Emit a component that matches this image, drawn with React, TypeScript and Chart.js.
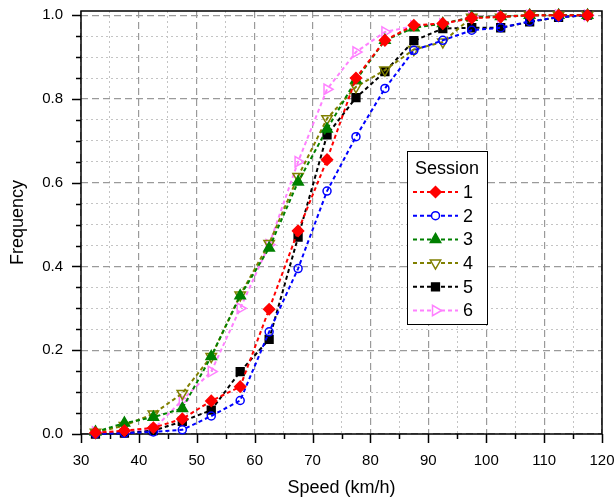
import React, { useEffect, useRef } from 'react';
import { Chart, registerables } from 'chart.js';
import { drawPoint } from 'chart.js/helpers';

Chart.register(...registerables);

// ---- data ----
const speeds = [32.5, 37.5, 42.5, 47.5, 52.5, 57.5, 62.5, 67.5, 72.5, 77.5, 82.5, 87.5, 92.5, 97.5, 102.5, 107.5, 112.5, 117.5];
const session1 = [0.003, 0.008, 0.015, 0.036, 0.079, 0.113, 0.298, 0.485, 0.655, 0.85, 0.94, 0.976, 0.98, 0.993, 0.996, 1.0, 1.0, 1.0];
const session2 = [0.0, 0.002, 0.005, 0.01, 0.043, 0.08, 0.244, 0.395, 0.58, 0.71, 0.825, 0.916, 0.94, 0.964, 0.97, 0.985, 0.995, 1.0];
const session3 = [0.005, 0.026, 0.04, 0.061, 0.185, 0.33, 0.444, 0.602, 0.728, 0.845, 0.94, 0.97, 0.98, 0.995, 0.997, 1.0, 1.0, 1.0];
const session4 = [0.004, 0.02, 0.048, 0.097, 0.185, 0.332, 0.455, 0.615, 0.753, 0.829, 0.869, 0.918, 0.936, 0.995, 0.995, 1.0, 1.0, 1.0];
const session5 = [0.0, 0.002, 0.008, 0.03, 0.057, 0.149, 0.226, 0.47, 0.714, 0.803, 0.865, 0.939, 0.968, 0.97, 0.97, 0.984, 0.995, 1.0];
const session6 = [0.005, 0.005, 0.011, 0.081, 0.149, 0.3, 0.452, 0.65, 0.823, 0.912, 0.96, 0.974, 0.979, 0.996, 0.996, 0.999, 1.0, 1.0];
const sessionLabels = ['1', '2', '3', '4', '5', '6'];
const sessionValues = [session1, session2, session3, session4, session5, session6];
const legendTitle = 'Session';
const xTitle = 'Speed (km/h)';
const yTitle = 'Frequency';
const xMin = 30, xMax = 120, xStep = 5, xMajor = 10;
const yMin = 0, yMax = 1.01, yStep = 0.05, yMajor = 0.2;

// ---- styles ----
const colors = ['#ff0000', '#0000ff', '#008000', '#808000', '#000000', '#ff80ff'];
const pStyles = ['rectRot', 'circle', 'triangle', 'triangle', 'rect', 'triangle'];
const pRot = [0, 0, 0, 180, 0, 90];
const pFilled = [true, false, true, false, true, false];
const pRadius = [5.5, 4, 6, 6, 5.5, 6];
const FONT = 'Liberation Sans, Arial, sans-serif';

const isMajor = (v: number, m: number) => Math.abs(v / m - Math.round(v / m)) < 1e-6;

const decorPlugin = {
  id: 'decor',
  beforeDatasetsDraw(chart: any) {
    const { ctx, chartArea: a } = chart;
    const xs = chart.scales.x;
    const ys = chart.scales.y;
    ctx.save();
    ctx.strokeStyle = '#000';
    ctx.lineWidth = 1.5;
    ctx.setLineDash([]);
    ctx.strokeRect(a.left, a.top, a.right - a.left, a.bottom - a.top);
    ctx.lineWidth = 1.5;
    ctx.beginPath();
    for (let v = xMin; v <= xMax + 1e-9; v += xStep) {
      const px = Math.round(xs.getPixelForValue(v)) + 0.5;
      const len = isMajor(v, xMajor) ? 9 : 5;
      ctx.moveTo(px, a.bottom);
      ctx.lineTo(px, a.bottom + len);
    }
    for (let v = yMin; v <= 1.0 + 1e-9; v += yStep) {
      const py = Math.round(ys.getPixelForValue(v)) + 0.5;
      const len = isMajor(v, yMajor) ? 9 : 5;
      ctx.moveTo(a.left, py);
      ctx.lineTo(a.left - len, py);
    }
    ctx.stroke();
    ctx.restore();
  },
  afterDatasetsDraw(chart: any) {
    const { ctx } = chart;
    ctx.save();
    const bx = 407, by = 151, bw = 80, bh = 173;
    ctx.fillStyle = '#fff';
    ctx.fillRect(bx, by, bw, bh);
    ctx.strokeStyle = '#000';
    ctx.lineWidth = 1;
    ctx.setLineDash([]);
    ctx.strokeRect(bx + 0.5, by + 0.5, bw, bh);
    ctx.fillStyle = '#000';
    ctx.font = `18px ${FONT}`;
    ctx.textAlign = 'center';
    ctx.textBaseline = 'middle';
    ctx.fillText(legendTitle, bx + bw / 2, by + 18);
    sessionLabels.forEach((lab, i) => {
      const y = by + 41 + i * 23.7;
      ctx.strokeStyle = colors[i];
      ctx.lineWidth = 2;
      ctx.setLineDash([4, 3]);
      ctx.beginPath();
      ctx.moveTo(413, y);
      ctx.lineTo(458, y);
      ctx.stroke();
      ctx.setLineDash([]);
      ctx.lineWidth = 1.5;
      ctx.fillStyle = pFilled[i] ? colors[i] : '#fff';
      drawPoint(ctx, { pointStyle: pStyles[i], rotation: pRot[i], radius: pRadius[i], borderWidth: 1.5 } as any, 435.5, y);
      ctx.fillStyle = '#000';
      ctx.textAlign = 'left';
      ctx.fillText(lab, 463, y + 1);
    });
    ctx.restore();
  },
};

export default function App() {
  const ref = useRef<HTMLCanvasElement | null>(null);
  useEffect(() => {
    if (!ref.current) return;
    const datasets = sessionValues.map((vals, i) => ({
      label: sessionLabels[i],
      data: speeds.map((s, j) => ({ x: s, y: vals[j] })),
      borderColor: colors[i],
      backgroundColor: pFilled[i] ? colors[i] : 'rgba(255,255,255,0)',
      pointBackgroundColor: pFilled[i] ? colors[i] : 'rgba(255,255,255,0)',
      pointBorderColor: colors[i],
      pointStyle: pStyles[i],
      pointRotation: pRot[i],
      pointRadius: pRadius[i],
      pointBorderWidth: 1.5,
      borderWidth: 2,
      borderDash: [4, 3],
      tension: 0,
      clip: false as any,
    }));
    const chart = new Chart(ref.current, {
      type: 'line',
      data: { datasets },
      plugins: [decorPlugin],
      options: {
        animation: false,
        responsive: false,
        layout: { padding: { left: 0, top: 11, right: 14, bottom: 0 } },
        plugins: { legend: { display: false }, tooltip: { enabled: false } },
        scales: {
          x: {
            type: 'linear',
            min: xMin,
            max: xMax,
            afterFit: (s: any) => { s.height = 68; s.paddingLeft = 0; s.paddingRight = 0; },
            ticks: {
              stepSize: xStep,
              autoSkip: false,
              maxRotation: 0,
              padding: 18,
              color: '#000',
              font: { family: FONT, size: 15 },
              callback: (v: any) => (isMajor(Number(v), xMajor) ? String(v) : ''),
            },
            grid: {
              drawTicks: false,
              color: (c: any) => (c.tick && isMajor(c.tick.value, xMajor) ? '#9a9a9a' : '#c4c4c4'),
              lineWidth: (c: any) => (c.tick && isMajor(c.tick.value, xMajor) ? 1.2 : 1),
            },
            border: {
              display: false,
              dash: (c: any) => (c.tick ? (isMajor(c.tick.value, xMajor) ? [7, 4] : [2, 3]) : []),
            } as any,
            title: { display: true, text: xTitle, color: '#000', font: { family: FONT, size: 18 }, padding: { top: 0, bottom: 3 } },
          },
          y: {
            type: 'linear',
            min: yMin,
            max: yMax,
            afterFit: (s: any) => { s.width = 81; s.paddingTop = 0; s.paddingBottom = 0; },
            ticks: {
              stepSize: yStep,
              autoSkip: false,
              includeBounds: false,
              padding: 18,
              color: '#000',
              font: { family: FONT, size: 15 },
              callback: (v: any) => (isMajor(Number(v), yMajor) ? Number(v).toFixed(1) : ''),
            },
            grid: {
              drawTicks: false,
              color: (c: any) => (c.tick && isMajor(c.tick.value, yMajor) ? '#9a9a9a' : '#c4c4c4'),
              lineWidth: (c: any) => (c.tick && isMajor(c.tick.value, yMajor) ? 1.2 : 1),
            },
            border: {
              display: false,
              dash: (c: any) => (c.tick ? (isMajor(c.tick.value, yMajor) ? [7, 4] : [2, 3]) : []),
            } as any,
            title: { display: true, text: yTitle, color: '#000', font: { family: FONT, size: 18 }, padding: { top: 7, bottom: 0 } },
          },
        },
      } as any,
    });
    return () => chart.destroy();
  }, []);
  return (
    <div style={{ position: 'absolute', left: 0, top: 0, width: 616, height: 502, background: '#fff' }}>
      <canvas ref={ref} width={616} height={502} />
    </div>
  );
}
